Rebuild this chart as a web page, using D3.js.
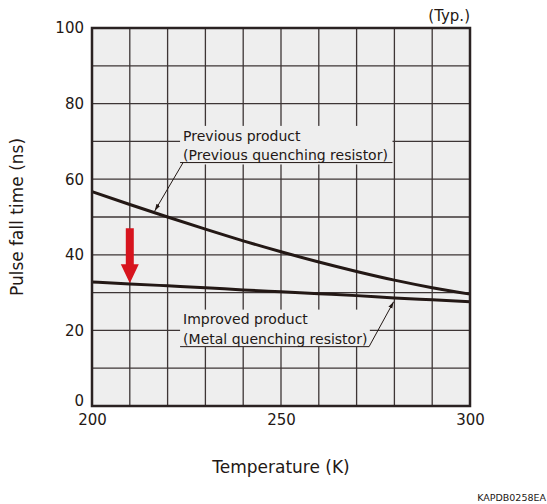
<!DOCTYPE html>
<html>
<head>
<meta charset="utf-8">
<script src="https://cdn.jsdelivr.net/npm/d3@7"></script>
<style>
  body { margin: 0; background: #fff; }
  svg text { font-family: "DejaVu Sans", Verdana, sans-serif; fill: #231815; }
</style>
</head>
<body>
<div id="chart"></div>
<script>
// temperature (K) and pulse fall time (ns)
const temps = [200, 210, 220, 230, 240, 250, 260, 270, 280, 290, 300];
const previousFall = [56.7, 53.3, 50.0, 46.8, 43.7, 40.8, 38.1, 35.6, 33.3, 31.3, 29.6];
const improvedFall = [32.8, 32.3, 31.8, 31.3, 30.7, 30.2, 29.7, 29.2, 28.6, 28.1, 27.6];
const xTicks = [200, 250, 300];
const yTicks = [0, 20, 40, 60, 80, 100];
const arrowAt = { t: 210, from: 47, to: 32.5 };

const width = 547, height = 504;
const margin = { top: 28, right: 77, bottom: 98, left: 92 };
const w = width - margin.left - margin.right,
      h = height - margin.top - margin.bottom;

const svg = d3.select("#chart").append("svg")
    .attr("width", width)
    .attr("height", height);

const g = svg.append("g")
    .attr("transform", `translate(${margin.left},${margin.top})`);

const x = d3.scaleLinear().domain([200, 300]).range([0, w]);
const y = d3.scaleLinear().domain([0, 100]).range([h, 0]);

g.append("rect")
    .attr("width", w).attr("height", h)
    .attr("fill", "#eeeeee");

// grid every 10 K / 10 ns
const grid = g.append("g").attr("stroke", "#3d3535").attr("stroke-width", 1.3);
d3.range(210, 300, 10).forEach(t => {
    grid.append("line")
        .attr("x1", x(t)).attr("x2", x(t))
        .attr("y1", 0).attr("y2", h);
});
d3.range(10, 100, 10).forEach(v => {
    grid.append("line")
        .attr("x1", 0).attr("x2", w)
        .attr("y1", y(v)).attr("y2", y(v));
});

const line = d3.line()
    .x((d, i) => x(temps[i]))
    .y(d => y(d))
    .curve(d3.curveMonotoneX);

// label boxes hide the grid behind the text
function labelBox(t0, t1, v0, v1) {
    g.append("rect")
        .attr("x", x(t0)).attr("y", y(v1))
        .attr("width", x(t1) - x(t0)).attr("height", y(v0) - y(v1))
        .attr("fill", "#eeeeee");
}
labelBox(223.3, 279.5, 63.9, 74.1);
labelBox(223.3, 273.5, 15.6, 25.5);

g.append("path")
    .datum(previousFall)
    .attr("d", line)
    .attr("fill", "none")
    .attr("stroke", "#231815")
    .attr("stroke-width", 3);

g.append("path")
    .datum(improvedFall)
    .attr("d", line)
    .attr("fill", "none")
    .attr("stroke", "#231815")
    .attr("stroke-width", 3);

// border
g.append("rect")
    .attr("width", w).attr("height", h)
    .attr("fill", "none")
    .attr("stroke", "#2a2222")
    .attr("stroke-width", 2.5);

// annotations
svg.append("defs").append("marker")
    .attr("id", "tip")
    .attr("viewBox", "0 0 10 10")
    .attr("refX", 10).attr("refY", 5)
    .attr("markerWidth", 7).attr("markerHeight", 7)
    .attr("orient", "auto")
    .append("path")
    .attr("d", "M0,2 L10,5 L0,8 Z")
    .attr("fill", "#231815");

const ann = g.append("g").attr("font-size", 14);
ann.append("text").attr("x", x(224.1)).attr("y", y(70.2)).text("Previous product");
ann.append("text").attr("x", x(224.1)).attr("y", y(65.1)).text("(Previous quenching resistor)");
ann.append("line")
    .attr("x1", x(223.3)).attr("x2", x(279.5))
    .attr("y1", y(64.4)).attr("y2", y(64.4))
    .attr("stroke", "#231815").attr("stroke-width", 1);
ann.append("line")
    .attr("x1", x(224.1)).attr("y1", y(64.4))
    .attr("x2", x(216.6)).attr("y2", y(51.6))
    .attr("stroke", "#231815").attr("stroke-width", 1)
    .attr("marker-end", "url(#tip)");

ann.append("text").attr("x", x(224.1)).attr("y", y(21.6)).text("Improved product");
ann.append("text").attr("x", x(224.1)).attr("y", y(16.5)).text("(Metal quenching resistor)");
ann.append("line")
    .attr("x1", x(223.3)).attr("x2", x(273.3))
    .attr("y1", y(15.7)).attr("y2", y(15.7))
    .attr("stroke", "#231815").attr("stroke-width", 1);
ann.append("line")
    .attr("x1", x(273.3)).attr("y1", y(15.7))
    .attr("x2", x(279.8)).attr("y2", y(27.6))
    .attr("stroke", "#231815").attr("stroke-width", 1)
    .attr("marker-end", "url(#tip)");

// red arrow
const ax = x(arrowAt.t), headTop = y(arrowAt.to) - 19;
g.append("path")
    .attr("d", `M${ax - 4},${y(arrowAt.from)} L${ax + 4},${y(arrowAt.from)} L${ax + 4},${headTop}
                L${ax + 9},${headTop} L${ax},${y(arrowAt.to)} L${ax - 9},${headTop} L${ax - 4},${headTop} Z`)
    .attr("fill", "#d7141e");

// axes
const xAxis = g.append("g")
    .attr("transform", `translate(0,${h})`)
    .call(d3.axisBottom(x).tickValues(xTicks).tickSize(0).tickPadding(8));
const yAxis = g.append("g")
    .call(d3.axisLeft(y).tickValues(yTicks).tickSize(0).tickPadding(8));
[xAxis, yAxis].forEach(a => {
    a.select(".domain").remove();
    a.selectAll("text").attr("font-size", 15).attr("fill", "#231815")
        .attr("font-family", "'DejaVu Sans', Verdana, sans-serif");
});
yAxis.selectAll(".tick").filter(d => d === 0).select("text").attr("dy", "-0.05em");

svg.append("text")
    .attr("x", margin.left + w / 2).attr("y", 473)
    .attr("text-anchor", "middle")
    .attr("font-size", 17)
    .text("Temperature (K)");

svg.append("text")
    .attr("transform", `translate(23,${margin.top + h / 2}) rotate(-90)`)
    .attr("text-anchor", "middle")
    .attr("font-size", 17)
    .text("Pulse fall time (ns)");

svg.append("text")
    .attr("x", margin.left + w).attr("y", 21)
    .attr("text-anchor", "end")
    .attr("font-size", 15)
    .text("(Typ.)");

svg.append("text")
    .attr("x", 546).attr("y", 501)
    .attr("text-anchor", "end")
    .attr("font-size", 9.5)
    .text("KAPDB0258EA");
</script>
</body>
</html>
